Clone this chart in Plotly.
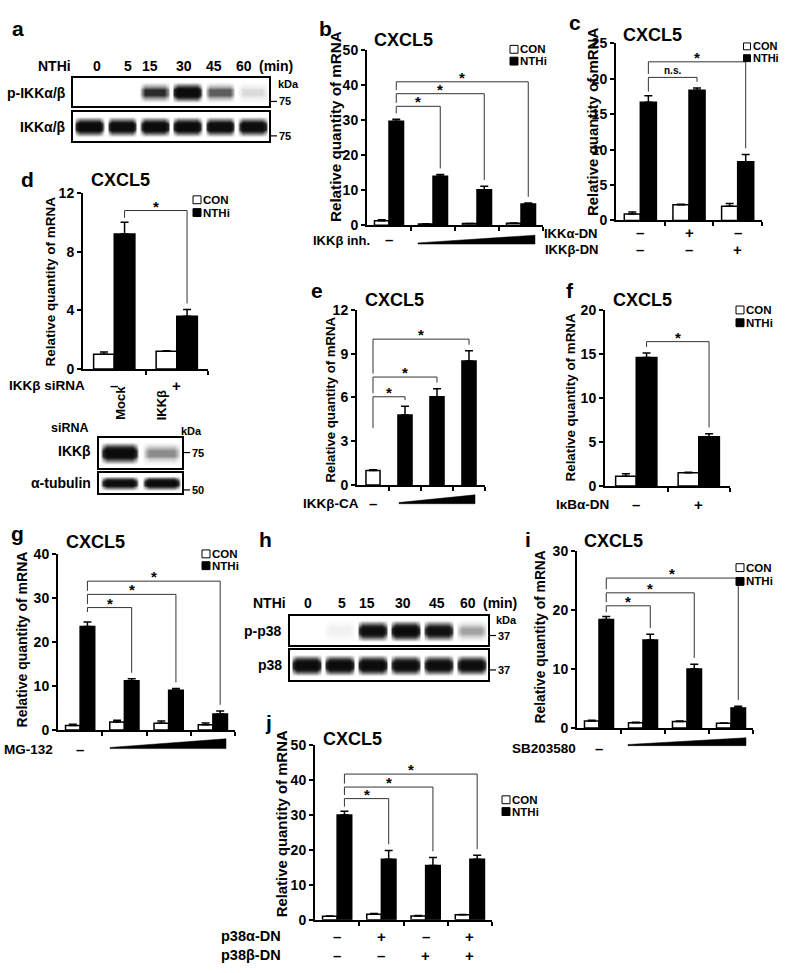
import plotly.graph_objects as go

W, H = 787, 973
FONT = "Liberation Sans, Arial, Helvetica, sans-serif"

# ======================= DATA =======================
# a : western blot, relative band intensities per lane
a_time = ["0", "5", "15", "30", "45", "60"]
a_p_ikk = [0.0, 0.0, 0.55, 1.0, 0.42, 0.12]
a_ikk = [1.0, 0.95, 1.0, 1.0, 0.95, 0.95]

# b
b_con = [1.3, 0.4, 0.5, 0.6]
b_con_err = [0.3, 0.05, 0.05, 0.05]
b_nthi = [29.7, 14.0, 10.2, 6.1]
b_nthi_err = [0.6, 0.5, 1.0, 0.3]
b_yticks = [0, 10, 20, 30, 40, 50]
b_brackets = [34.0, 37.6, 41.0]
b_marks = ["*", "*", "*"]

# c
c_con = [0.9, 2.2, 2.0]
c_con_err = [0.3, 0.1, 0.4]
c_nthi = [16.7, 18.4, 8.3]
c_nthi_err = [0.9, 0.3, 1.0]
c_yticks = [0, 5, 10, 15, 20, 25]
c_brackets = [20.2, 22.4]
c_marks = ["n.s.", "*"]
c_ikka = ["–", "+", "–"]
c_ikkb = ["–", "–", "+"]

# d
d_con = [1.0, 1.2]
d_con_err = [0.15, 0.05]
d_nthi = [9.2, 3.6]
d_nthi_err = [0.8, 0.45]
d_yticks = [0, 4, 8, 12]
d_brackets = [10.8]
d_marks = ["*"]
d_sirna = ["–", "+"]
d_blot_lanes = ["Mock", "IKKβ"]
d_ikkb_band = [1.0, 0.3]
d_tub_band = [0.95, 1.0]

# e
e_vals = [1.0, 4.8, 6.05, 8.5]
e_err = [0.05, 0.6, 0.55, 0.7]
e_yticks = [0, 3, 6, 9, 12]
e_brackets = [6.05, 7.4, 10.0]
e_marks = ["*", "*", "*"]

# f
f_con = [1.1, 1.5]
f_con_err = [0.3, 0.05]
f_nthi = [14.6, 5.6]
f_nthi_err = [0.5, 0.35]
f_yticks = [0, 5, 10, 15, 20]
f_brackets = [16.4]
f_marks = ["*"]
f_ikba = ["–", "+"]

# g
g_con = [1.0, 1.8, 1.5, 1.2]
g_con_err = [0.3, 0.4, 0.5, 0.4]
g_nthi = [23.5, 11.2, 9.0, 3.6]
g_nthi_err = [1.0, 0.4, 0.4, 0.7]
g_yticks = [0, 10, 20, 30, 40]
g_brackets = [27.8, 30.8, 33.8]
g_marks = ["*", "*", "*"]

# h : western blot
h_time = ["0", "5", "15", "30", "45", "60"]
h_p_p38 = [0.0, 0.06, 0.9, 1.0, 0.85, 0.25]
h_p38 = [1.0, 1.0, 1.0, 0.95, 0.92, 0.92]

# i
i_con = [1.2, 0.9, 1.1, 0.8]
i_con_err = [0.1, 0.05, 0.1, 0.05]
i_nthi = [18.4, 14.9, 10.0, 3.4]
i_nthi_err = [0.5, 1.0, 0.8, 0.3]
i_yticks = [0, 10, 20, 30]
i_brackets = [20.7, 22.9, 25.4]
i_marks = ["*", "*", "*"]

# j
j_con = [1.0, 1.6, 1.1, 1.4]
j_con_err = [0.1, 0.2, 0.1, 0.1]
j_nthi = [29.9, 17.3, 15.5, 17.3]
j_nthi_err = [1.1, 2.5, 2.3, 1.1]
j_yticks = [0, 10, 20, 30, 40, 50]
j_brackets = [34.6, 37.9, 41.6]
j_marks = ["*", "*", "*"]
j_p38a = ["–", "+", "–", "+"]
j_p38b = ["–", "–", "+", "+"]

YTITLE = "Relative quantity of mRNA"

# ======================= HELPERS =======================
traces, annotations, shapes = [], [], []
layout_axes = {}
counter = [0]
BW = 0.33  # bar width (fraction of group)

TICK_SIZE = 14
LAB_SIZE = 14
TREAT_SIZE = 13.5
MARK_SIZE = 15
LETTER = 21
TITLE = 18


def PX(x):
    return x / W


def PY(y):
    return 1 - y / H


def fnt(size):
    return dict(family=FONT, size=size, color="black", weight="bold")


def ann(text, x, y, size=LAB_SIZE, xanchor="center", yanchor="middle",
        xref="paper", angle=0):
    annotations.append(dict(
        text=text, showarrow=False, xanchor=xanchor, yanchor=yanchor,
        x=PX(x) if xref == "paper" else x, y=PY(y), xref=xref, yref="paper",
        textangle=angle, font=fnt(size), borderpad=0))


def ytitle(x, y, size):
    ann(YTITLE, x, y, size=size, angle=-90)


def new_axes(box, xr, yr):
    counter[0] += 1
    k = counter[0]
    sx = "" if k == 1 else str(k)
    x0, x1, yb, yt = box
    layout_axes["xaxis" + sx] = dict(domain=[PX(x0), PX(x1)], range=xr, anchor="y" + sx,
                                    showgrid=False, zeroline=False, fixedrange=True)
    layout_axes["yaxis" + sx] = dict(domain=[PY(yb), PY(yt)], range=yr, anchor="x" + sx,
                                    showgrid=False, zeroline=False, fixedrange=True)
    return "x" + sx, "y" + sx, "xaxis" + sx, "yaxis" + sx


def style_bar_axes(xa, ya, ng, yticks):
    layout_axes[xa].update(showline=True, linewidth=2, linecolor="black", ticks="outside",
                           ticklen=4, tickwidth=2, tickcolor="black",
                           tickvals=list(range(1, ng + 1)), showticklabels=False)
    layout_axes[ya].update(showline=True, linewidth=2, linecolor="black", ticks="outside",
                           ticklen=4, tickwidth=2, tickcolor="black", tickvals=yticks,
                           tickfont=fnt(TICK_SIZE))


def err(arr):
    return dict(type="data", array=arr, arrayminus=[0] * len(arr), symmetric=False,
                color="black", thickness=1.5, width=4)


def add_brackets(x, y, left, rights, tops, levels, marks, leg_base, ymax):
    xs, ys = [], []
    for k, lv in enumerate(levels):
        lb = leg_base if k == 0 else levels[k - 1] + 0.02 * ymax
        xr, tp = rights[k], tops[k]
        xs += [left, left, xr, xr, None]
        ys += [lb, lv, lv, tp + 0.035 * ymax, None]
        m = marks[k]
        annotations.append(dict(
            text=m, x=(left + xr) / 2, y=lv, xref=x, yref=y, showarrow=False,
            xanchor="center", yanchor="bottom", yshift=-6 if m == "*" else -1,
            font=fnt(MARK_SIZE if m == "*" else 10)))
    traces.append(go.Scatter(x=xs, y=ys, mode="lines", xaxis=x, yaxis=y,
                             line=dict(color="#333333", width=1), showlegend=False,
                             hoverinfo="skip"))


def pair_panel(box, ymax, yticks, con, con_err, nthi, nthi_err, levels, marks, leg_base):
    ng = len(con)
    x, y, xa, ya = new_axes(box, [0, ng], [0, ymax])
    style_bar_axes(xa, ya, ng, yticks)
    centers = [g + 0.5 for g in range(ng)]
    traces.append(go.Bar(x=centers, y=con, width=BW, offset=-BW, xaxis=x, yaxis=y,
                         marker=dict(color="white", line=dict(color="black", width=1.5)),
                         error_y=err(con_err), showlegend=False, hoverinfo="skip"))
    traces.append(go.Bar(x=centers, y=nthi, width=BW, offset=0, xaxis=x, yaxis=y,
                         marker=dict(color="black", line=dict(color="black", width=1.5)),
                         error_y=err(nthi_err), showlegend=False, hoverinfo="skip"))
    left = centers[0] + BW / 2
    rights = [c + BW / 2 for c in centers[1:]]
    tops = [v + e for v, e in zip(nthi[1:], nthi_err[1:])]
    add_brackets(x, y, left, rights, tops, levels, marks, leg_base, ymax)
    return x, y, centers


def treat_row(xref, centers, signs, ypx, size=15):
    for c, s in zip(centers, signs):
        annotations.append(dict(text=s, x=c, y=PY(ypx), xref=xref, yref="paper",
                                showarrow=False, xanchor="center", yanchor="middle",
                                font=fnt(size), borderpad=0))


def legend_keys(cx, cy_con, cy_nthi, s=8, size=11.5):
    for cy, fill, lab in ((cy_con, "white", "CON"), (cy_nthi, "black", "NTHi")):
        shapes.append(dict(type="rect", xref="paper", yref="paper",
                           x0=PX(cx - s / 2), x1=PX(cx + s / 2),
                           y0=PY(cy + s / 2), y1=PY(cy - s / 2),
                           fillcolor=fill, line=dict(color="black", width=1)))
        ann(lab, cx + s / 2 + 1, cy, size=size, xanchor="left")


def wedge(x0, x1, yb, yt):
    path = "M {:.5f},{:.5f} L {:.5f},{:.5f} L {:.5f},{:.5f} L {:.5f},{:.5f} Z".format(
        PX(x0), PY(yb), PX(x1), PY(yb), PX(x1), PY(yt), PX(x0), PY(yb - 1.2))
    shapes.append(dict(type="path", path=path, xref="paper", yref="paper",
                       fillcolor="black", line=dict(color="black", width=0.5)))


BAND_XO = [-0.47, -0.4, -0.3, 0.3, 0.4, 0.47]
BAND_XP = [0.0, 0.55, 1.0, 1.0, 0.55, 0.0]
BAND_YO = [0.12, 0.3, 0.42, 0.58, 0.7, 0.88]
BAND_YP = [0.0, 0.5, 1.0, 1.0, 0.5, 0.0]
BLOT_CS = [[0, "#ffffff"], [0.08, "#ececec"], [0.3, "#8c8c8c"], [0.55, "#2a2a2a"],
           [0.8, "#111111"], [1, "#0b0b0b"]]


def blot_row(box, intens):
    n = len(intens)
    x, y, xa, ya = new_axes(box, [-0.5, n - 0.5], [0, 1])
    for a in (xa, ya):
        layout_axes[a].update(showline=True, mirror=True, linewidth=1.5, linecolor="black",
                              ticks="", showticklabels=False)
    xs, lane = [], []
    for k in range(n):
        for o in BAND_XO:
            xs.append(k + o)
            lane.append(k)
    xp = BAND_XP * n
    z = [[intens[lane[c]] * xp[c] * q for c in range(len(xs))] for q in BAND_YP]
    traces.append(go.Heatmap(x=xs, y=BAND_YO, z=z, xaxis=x, yaxis=y, zmin=0, zmax=1,
                             zsmooth="best", colorscale=BLOT_CS, showscale=False,
                             hoverinfo="skip"))
    return x, y


def kda(xbox, y, label):
    shapes.append(dict(type="line", xref="paper", yref="paper", x0=PX(xbox), x1=PX(xbox + 8),
                       y0=PY(y), y1=PY(y), line=dict(color="black", width=1.2)))
    ann(label, xbox + 9, y, size=11, xanchor="left")


# ======================= PANEL a =======================
ann("a", 18, 21, size=LETTER)
blot_row((73, 269, 100, 71), a_p_ikk)
blot_row((73, 269, 135, 106), a_ikk)
ann("NTHi", 54, 59)
for lab, xx in zip(a_time, [97, 128, 150, 184, 214, 244]):
    ann(lab, xx, 59)
ann("(min)", 258, 59, xanchor="left")
ann("p-IKKα/β", 67, 86, xanchor="right")
ann("IKKα/β", 67, 121, xanchor="right")
ann("kDa", 288, 77, size=11)
kda(269, 95, "75")
kda(269, 130, "75")

# ======================= PANEL b =======================
ann("b", 325, 21, size=LETTER)
ann("CXCL5", 403, 33, size=TITLE)
bx, by, bc = pair_panel((367, 543, 221, 43), 50, b_yticks, b_con, b_con_err, b_nthi,
                        b_nthi_err, b_brackets, b_marks, 32.0)
ytitle(335, 121, 15.2)
legend_keys(514, 42, 54)
ann("IKKβ inh.", 312, 236, size=13, xanchor="left")
treat_row(bx, bc[:1], ["–"], 235)
wedge(418, 535, 240, 231)

# ======================= PANEL c =======================
ann("c", 575, 15, size=LETTER)
ann("CXCL5", 652, 27, size=TITLE)
cx_, cy_, cc = pair_panel((616, 762, 216, 36), 25, c_yticks, c_con, c_con_err, c_nthi,
                          c_nthi_err, c_brackets, c_marks, 18.2)
ytitle(592, 116, 15)
legend_keys(747, 39, 51, s=7, size=11)
ann("IKKα-DN", 599, 229, size=13, xanchor="right")
ann("IKKβ-DN", 599, 246, size=13, xanchor="right")
treat_row(cx_, cc, c_ikka, 228)
treat_row(cx_, cc, c_ikkb, 246)

# ======================= PANEL d =======================
ann("d", 27, 174, size=LETTER)
ann("CXCL5", 120, 175, size=TITLE)
dx, dy, dc = pair_panel((83, 208, 367, 188), 12, d_yticks, d_con, d_con_err, d_nthi,
                        d_nthi_err, d_brackets, d_marks, 10.3)
ytitle(50, 278, 13.5)
legend_keys(197, 195, 208)
ann("IKKβ siRNA", 8, 384, size=TREAT_SIZE, xanchor="left")
treat_row(dx, dc, d_sirna, 384)
bx1, by1 = blot_row((99, 182, 468, 437), d_ikkb_band)
blot_row((99, 182, 493, 473), d_tub_band)
ann("siRNA", 90, 427, size=12.5, xanchor="right")
for k, lab in enumerate(d_blot_lanes):
    annotations.append(dict(text=lab, x=k, y=PY(421), xref=bx1, yref="paper",
                            showarrow=False, textangle=-90, xanchor="center",
                            yanchor="bottom", font=fnt(13)))
ann("IKKβ", 92, 450, xanchor="right")
ann("α-tubulin", 92, 483, xanchor="right")
ann("kDa", 191, 430, size=11)
kda(182, 452, "75")
kda(182, 490, "50")

# ======================= PANEL e =======================
ann("e", 317, 287, size=LETTER)
ann("CXCL5", 395, 297, size=TITLE)
ex, ey, xa_e, ya_e = new_axes((357, 485, 485, 307), [0, len(e_vals)], [0, 12])
style_bar_axes(xa_e, ya_e, len(e_vals), e_yticks)
ec = [g + 0.5 for g in range(len(e_vals))]
traces.append(go.Bar(x=ec, y=e_vals, width=0.44, offset=-0.22, xaxis=ex, yaxis=ey,
                     marker=dict(color=["white", "black", "black", "black"],
                                 line=dict(color="black", width=1.5)),
                     error_y=err(e_err), showlegend=False, hoverinfo="skip"))
add_brackets(ex, ey, ec[0], ec[1:], [v + e for v, e in zip(e_vals[1:], e_err[1:])],
             e_brackets, e_marks, 3.9, 12)
ytitle(330, 398, 13.2)
ann("IKKβ-CA", 302, 504, size=TREAT_SIZE, xanchor="left")
treat_row(ex, ec[:1], ["–"], 504)
wedge(399, 475, 504, 495)

# ======================= PANEL f =======================
ann("f", 570, 287, size=LETTER)
ann("CXCL5", 642, 297, size=TITLE)
fx, fy, fc = pair_panel((605, 730, 486, 307), 20, f_yticks, f_con, f_con_err, f_nthi,
                        f_nthi_err, f_brackets, f_marks, 15.8)
ytitle(570, 396, 13.4)
legend_keys(740, 307, 320)
ann("IκBα-DN", 555, 505, size=TREAT_SIZE, xanchor="left")
treat_row(fx, fc, f_ikba, 505)

# ======================= PANEL g =======================
ann("g", 17, 534, size=LETTER)
ann("CXCL5", 95, 543, size=TITLE)
gx, gy, gc = pair_panel((58, 235, 734, 555), 40, g_yticks, g_con, g_con_err, g_nthi,
                        g_nthi_err, g_brackets, g_marks, 26.8)
ytitle(22, 642, 14)
legend_keys(206, 555, 567)
ann("MG-132", 3, 754, size=TREAT_SIZE, xanchor="left")
treat_row(gx, gc[:1], ["–"], 754)
wedge(110, 226, 753, 743)

# ======================= PANEL h =======================
ann("h", 265, 540, size=LETTER)
blot_row((290, 488, 648, 618), h_p_p38)
blot_row((290, 488, 683, 653), h_p38)
ann("NTHi", 269, 605)
for lab, xx in zip(h_time, [308, 342, 367, 403, 437, 468]):
    ann(lab, xx, 605)
ann("(min)", 500, 605)
ann("p-p38", 283, 633, xanchor="right")
ann("p38", 283, 668, xanchor="right")
ann("kDa", 507, 622, size=11)
kda(488, 638, "37")
kda(488, 673, "37")

# ======================= PANEL i =======================
ann("i", 528, 540, size=LETTER)
ann("CXCL5", 613, 542, size=TITLE)
ix, iy, ic = pair_panel((577, 753, 732, 552), 30, i_yticks, i_con, i_con_err, i_nthi,
                        i_nthi_err, i_brackets, i_marks, 19.6)
ytitle(540, 640, 13.8)
legend_keys(740, 569, 583)
ann("SB203580", 577, 753, size=TREAT_SIZE, xanchor="right")
treat_row(ix, ic[:1], ["–"], 753)
wedge(628, 746, 750, 742)

# ======================= PANEL j =======================
ann("j", 268, 726, size=LETTER)
ann("CXCL5", 352, 743, size=TITLE)
jx, jy, jc = pair_panel((315, 492, 927, 749), 50, j_yticks, j_con, j_con_err, j_nthi,
                        j_nthi_err, j_brackets, j_marks, 32.3)
ytitle(282, 830, 14.9)
legend_keys(506, 805, 817)
ann("p38α-DN", 220, 944, size=14.5, xanchor="left")
ann("p38β-DN", 220, 963, size=14.5, xanchor="left")
treat_row(jx, jc, j_p38a, 944)
treat_row(jx, jc, j_p38b, 963)

# ======================= FIGURE =======================
fig = go.Figure(data=traces)
fig.update_layout(
    width=W, height=H, margin=dict(l=0, r=0, t=0, b=0),
    paper_bgcolor="white", plot_bgcolor="rgba(0,0,0,0)",
    barmode="overlay", showlegend=False,
    font=dict(family=FONT, color="black", weight="bold"),
    annotations=annotations, shapes=shapes,
    **layout_axes)
fig.write_html("out.html", config={"displayModeBar": False},
               post_script="document.body.style.margin='0px';document.body.style.overflow='hidden';")
